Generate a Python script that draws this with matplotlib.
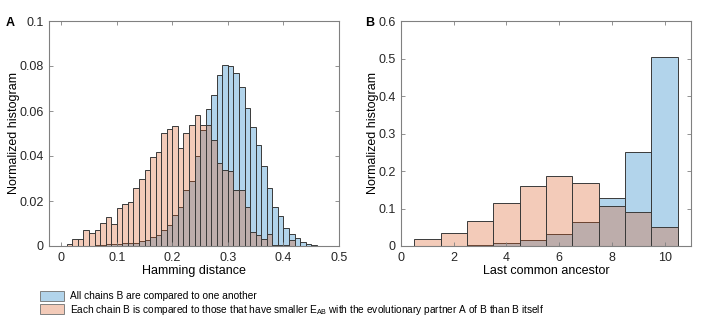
"""
plot.py - two overlaid normalized histograms (Hamming distance, last common ancestor)
"""

import numpy as np
import matplotlib
matplotlib.use('Agg')
import matplotlib.pyplot as plt
from matplotlib.patches import Patch
from matplotlib.ticker import FormatStrFormatter

plt.rcParams['font.family'] = ['Liberation Sans', 'DejaVu Sans']
plt.rcParams['mathtext.default'] = 'regular'

# Panel A: Hamming distance, bins of width 0.01 from 0 to 0.5
ham_left = np.arange(50) * 0.01
ham_all = [0, 0, 0, 0.0001, 0.0001, 0.0002, 0.0003, 0.0006, 0.0007, 0.0008,
           0.0011, 0.0012, 0.0013, 0.0015, 0.0021, 0.0025, 0.004, 0.005, 0.0071, 0.0095,
           0.0136, 0.0175, 0.0248, 0.029, 0.040, 0.0515, 0.0607, 0.0672, 0.0762, 0.0806,
           0.0801, 0.0767, 0.0707, 0.0615, 0.0527, 0.045, 0.0354, 0.026, 0.0173, 0.0132,
           0.0078, 0.0054, 0.0034, 0.0017, 0.0008, 0.0004, 0.0002, 0.0002, 0.0001, 0.0001]
ham_smaller = [0, 0.001, 0.003, 0.003, 0.0073, 0.0056, 0.0069, 0.0104, 0.013, 0.0099,
               0.017, 0.0188, 0.0197, 0.0259, 0.0296, 0.034, 0.0397, 0.042, 0.0504, 0.0519,
               0.0535, 0.0437, 0.0504, 0.054, 0.0584, 0.054, 0.054, 0.0473, 0.0371, 0.034,
               0.0332, 0.0251, 0.0251, 0.0172, 0.0062, 0.0051, 0.003, 0.0052, 0.0006, 0.0005,
               0.0005, 0.0027, 0.0002, 0.0001, 0, 0, 0, 0, 0, 0]

# Panel B: last common ancestor, integer bins 1..10
lca_bins = np.arange(1, 11)
lca_all = [0.0, 0.001, 0.004, 0.007, 0.015, 0.031, 0.063, 0.127, 0.252, 0.503]
lca_smaller = [0.02, 0.036, 0.066, 0.116, 0.161, 0.186, 0.167, 0.108, 0.092, 0.052]

labels = ['All chains B are compared to one another',
          'Each chain B is compared to those that have smaller E$_{AB}$ with the '
          'evolutionary partner A of B than B itself']

blue = (0.0, 0.447, 0.741, 0.3)
orange = (0.85, 0.325, 0.098, 0.3)
edge = '#3a3a3a'
axis_col = '#808080'


def style_axes(ax):
    for s in ax.spines.values():
        s.set_color(axis_col)
        s.set_linewidth(0.8)
    ax.tick_params(direction='in', length=3, width=0.6, color=axis_col,
                   top=True, right=True, labelsize=9, labelcolor='#262626', pad=4)


fig = plt.figure(figsize=(7.27, 3.23), dpi=100)
axA = fig.add_axes([49 / 727, 1 - 246 / 323, 290 / 727, 225 / 323])
axB = fig.add_axes([401 / 727, 1 - 246 / 323, 290 / 727, 225 / 323])

# panel A
axA.bar(ham_left, ham_all, width=0.01, align='edge', color=blue,
        edgecolor=edge, linewidth=0.7)
axA.bar(ham_left, ham_smaller, width=0.01, align='edge', color=orange,
        edgecolor=edge, linewidth=0.7)
axA.set_xlim(-0.022, 0.5)
axA.set_ylim(0, 0.1)
axA.set_xticks(np.arange(0, 0.51, 0.1))
axA.set_yticks(np.arange(0, 0.101, 0.02))
axA.xaxis.set_major_formatter(FormatStrFormatter('%g'))
axA.yaxis.set_major_formatter(FormatStrFormatter('%g'))
axA.set_xlabel('Hamming distance', fontsize=9, labelpad=1)
axA.set_ylabel('Normalized histogram', fontsize=9, labelpad=-1)
style_axes(axA)

# panel B
axB.bar(lca_bins, lca_all, width=1, color=blue, edgecolor=edge, linewidth=0.7)
axB.bar(lca_bins, lca_smaller, width=1, color=orange, edgecolor=edge, linewidth=0.7)
axB.set_xlim(0, 11)
axB.set_ylim(0, 0.6)
axB.set_xticks(np.arange(0, 11, 2))
axB.set_yticks(np.arange(0, 0.61, 0.1))
axB.yaxis.set_major_formatter(FormatStrFormatter('%g'))
axB.set_xlabel('Last common ancestor', fontsize=9, labelpad=1)
axB.set_ylabel('Normalized histogram', fontsize=9, labelpad=-1)
style_axes(axB)

fig.text(6 / 727, 1 - 23 / 323, 'A', fontsize=9, fontweight='bold', va='center')
fig.text(365 / 727, 1 - 23 / 323, 'B', fontsize=9, fontweight='bold', va='center')

handles = [Patch(facecolor=blue, edgecolor=axis_col, linewidth=0.7),
           Patch(facecolor=orange, edgecolor=axis_col, linewidth=0.7)]
fig.legend(handles, labels, loc='upper left', bbox_to_anchor=(40 / 727, 1 - 291 / 323),
           frameon=False, fontsize=7.3, handlelength=2.4, handleheight=1.1,
           labelspacing=0.12, handletextpad=0.6, borderpad=0, borderaxespad=0)

fig.savefig('out.png', dpi=100)
